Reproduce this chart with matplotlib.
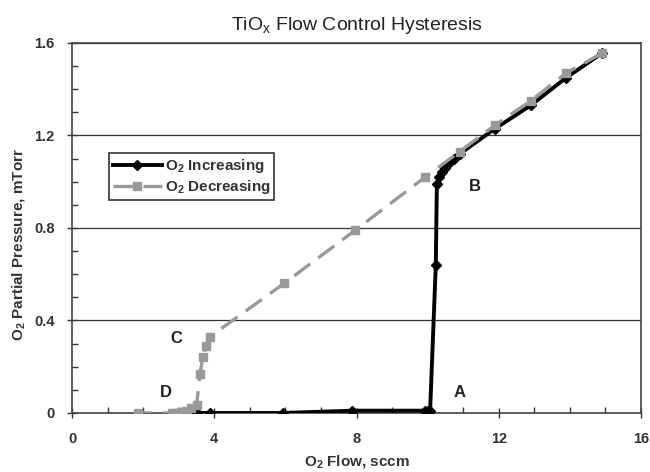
import matplotlib
matplotlib.use("Agg")
import matplotlib.pyplot as plt
from matplotlib.ticker import MultipleLocator, FuncFormatter

plt.rcParams['font.family'] = ['Liberation Sans', 'DejaVu Sans']
plt.rcParams['mathtext.default'] = 'regular'

inc_x = [3.5, 3.88, 5.93, 7.88, 9.93, 10.0, 10.07, 10.23, 10.26, 10.32, 10.4, 10.5, 10.6, 10.75, 10.9, 11.9, 12.9, 13.9, 14.9]
inc_y = [0.0, 0.0, 0.0, 0.01, 0.01, 0.01, 0.01, 0.64, 0.99, 1.02, 1.04, 1.06, 1.08, 1.10, 1.12, 1.23, 1.33, 1.45, 1.555]

dec_x = [14.9, 13.9, 12.9, 11.9, 10.9, 9.93, 7.96, 5.96, 3.88, 3.76, 3.67, 3.6, 3.5, 3.35, 3.2, 3.05, 2.9, 2.8, 1.86]
dec_y = [1.555, 1.47, 1.35, 1.245, 1.13, 1.02, 0.79, 0.56, 0.33, 0.29, 0.24, 0.17, 0.035, 0.02, 0.01, 0.005, 0.0, 0.0, 0.0]

annotations = [("A", 10.9, 0.09), ("B", 11.33, 0.98), ("C", 2.93, 0.32), ("D", 2.64, 0.09)]

fig = plt.figure(figsize=(6.5, 4.72), dpi=100)
ax = fig.add_axes([0.111, 0.125, 0.875, 0.784])

ax.plot(inc_x, inc_y, color='black', lw=2.8, marker='D', ms=5.5, label='O$_2$ Increasing', zorder=3)
ax.plot(dec_x, dec_y, color='#999999', lw=2.4, ls=(0, (6, 3)), marker='s', ms=6,
        label='O$_2$ Decreasing', zorder=4)

ax.set_xlim(0, 16)
ax.set_ylim(0, 1.6)
ax.xaxis.set_major_locator(MultipleLocator(4))
ax.xaxis.set_minor_locator(MultipleLocator(1))
ax.yaxis.set_major_locator(MultipleLocator(0.4))
ax.yaxis.set_minor_locator(MultipleLocator(0.1))
ax.xaxis.set_major_formatter(FuncFormatter(lambda v, p: f"{v:.0f}"))
ax.yaxis.set_major_formatter(FuncFormatter(lambda v, p: "0" if v == 0 else f"{v:.1f}"))

ax.grid(axis='y', which='major', color='#333333', lw=0.9)
ax.set_axisbelow(True)
ax.tick_params(which='major', direction='inout', length=7, width=1, colors='#333333', labelsize=10.5)
ax.tick_params(axis='x', which='major', pad=10)
ax.tick_params(axis='y', which='major', pad=9)
ax.tick_params(which='minor', direction='in', length=4, width=1, colors='#333333')
for lab in ax.get_xticklabels() + ax.get_yticklabels():
    lab.set_fontweight('bold')
    lab.set_color('#333333')
for s in ax.spines.values():
    s.set_color('#444444')
    s.set_linewidth(1.2)

ax.set_xlabel('O$_2$ Flow, sccm', fontsize=11, fontweight='bold', color='#333333', labelpad=5)
ax.set_ylabel('O$_2$ Partial Pressure, mTorr', fontsize=11, fontweight='bold', color='#333333')
ax.yaxis.set_label_coords(-0.08, 0.454)
ax.set_title('TiO$_x$ Flow Control Hysteresis', fontsize=14, color='#222222', pad=9)

for t, x, y in annotations:
    ax.text(x, y, t, fontsize=12, fontweight='bold', color='#222222', ha='center', va='center')

leg = ax.legend(loc='lower left', bbox_to_anchor=(0.065, 0.576), borderaxespad=0, fancybox=False,
                framealpha=1, edgecolor='#333333', fontsize=11, handlelength=3.2, borderpad=0.25,
                labelspacing=0.2, handletextpad=0.2, markerfirst=True)
leg.get_frame().set_linewidth(1.2)
for txt in leg.get_texts():
    txt.set_fontweight('bold')
    txt.set_color('#333333')

fig.savefig('out.png', dpi=100)
